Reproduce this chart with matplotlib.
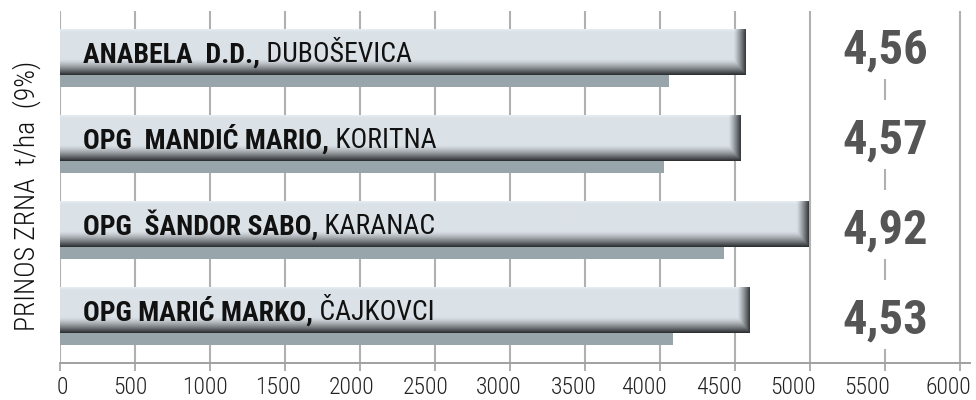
import numpy as np
import matplotlib
matplotlib.use("Agg")
import matplotlib.pyplot as plt
from matplotlib.colors import to_rgb
from matplotlib.patches import Rectangle
from matplotlib.transforms import ScaledTranslation

# ---- data ----
names_bold = ["ANABELA  D.D.,", "OPG  MANDIĆ MARIO,", "OPG  ŠANDOR SABO,", "OPG MARIĆ MARKO,"]
places = ["DUBOŠEVICA", "KORITNA", "KARANAC", "ČAJKOVCI"]
main_values = [4570, 4535, 4990, 4600]
lower_values = [4060, 4030, 4430, 4090]
value_labels = ["4,56", "4,57", "4,92", "4,53"]
x_ticks = [0, 500, 1000, 1500, 2000, 2500, 3000, 3500, 4000, 4500, 5000, 5500, 6000]
y_label = "PRINOS ZRNA  t/ha  (9%)"

FONT = ["Roboto Condensed", "Archivo Narrow", "Barlow Condensed", "DejaVu Sans"]
plt.rcParams['font.family'] = FONT

fig = plt.figure(figsize=(9.76, 4.0), dpi=100)
ax = fig.add_axes([60/976, 37/400, 910/976, 352/400])

xmax = 6067
ymin, ymax = 3.616, -0.477
half = 0.267
low_h = 0.14
slot_px = 86.0

light = np.array(to_rgb("#dbe2e7"))
dark = np.array(to_rgb("#2e3134"))

def bar_image(value):
    H = 46
    W = max(int(value / 5), 10)
    rows = np.linspace(0, 1, H)
    dv = np.clip((rows - 0.66) / 0.34, 0, 1) ** 1.3
    xs = np.linspace(0, value, W)
    cap = 80.0
    dh = np.clip((xs - (value - cap)) / cap, 0, 1) ** 1.2
    d = np.maximum(dv[:, None], dh[None, :] * 0.95)
    top = np.clip((0.06 - rows) / 0.06, 0, 1)[:, None] * 0.04
    img = light[None, None, :] * (1 - d[..., None]) + dark[None, None, :] * d[..., None]
    img = np.clip(img + top[..., None], 0, 1)
    return img

for i, (mv, lv) in enumerate(zip(main_values, lower_values)):
    ax.barh(i + half + low_h / 2, lv, height=low_h, left=0, color="#98a6ab", zorder=2)
    ax.imshow(bar_image(mv), extent=(0, mv, i + half, i - half), aspect="auto",
              interpolation="bilinear", zorder=3)
    t1 = ax.text(153, i + 0.12, names_bold[i], fontsize=20, fontweight="bold",
                 va="baseline", ha="left", color="#111111", zorder=5)
    ax.annotate(" " + places[i], xy=(1, 0), xycoords=t1, va="bottom", ha="left",
                fontsize=20, color="#111111", zorder=5)
    # value labels spaced slightly wider than the bars
    yb = (63 + 90 * i - 52) / slot_px
    # white gap in the 5500 gridline behind each label
    ax.add_patch(Rectangle((5460, yb - 53 / slot_px), 80, 69 / slot_px,
                           facecolor="white", edgecolor="none", zorder=4))
    ax.text(5500, yb, value_labels[i], fontsize=35, fontweight="bold",
            ha="center", va="baseline", color="#555555", zorder=5)

ax.set_xlim(0, xmax)
ax.set_ylim(ymin, ymax)
ax.set_xticks(x_ticks)
ax.set_xticklabels([str(t) for t in x_ticks], fontsize=17, color="#222222",
                   fontweight="light")
ax.set_yticks([])
for t in x_ticks:
    ax.axvline(t, color="#b0b0b0", lw=1.5, zorder=1)
for s in ["top", "right", "left"]:
    ax.spines[s].set_visible(False)
ax.spines["bottom"].set_color("#a0a0a0")
ax.spines["bottom"].set_linewidth(1.4)
ax.tick_params(axis="x", length=6, width=1.2, color="#a0a0a0", pad=3)

# tick labels in the reference sit slightly left of their ticks
label_shift_px = [2, -5, -5, -7, -8, -9, -11, -11, -16, -16, -17, -18, -12]
for lab, dx in zip(ax.get_xticklabels(), label_shift_px):
    lab.set_transform(lab.get_transform() + ScaledTranslation(dx / 100, 0, fig.dpi_scale_trans))

fig.text(27/976, 1 - 196/400, y_label, rotation=90, fontsize=20, fontweight="light",
         ha="center", va="center", color="#111111")

fig.savefig("out.png", dpi=100)
